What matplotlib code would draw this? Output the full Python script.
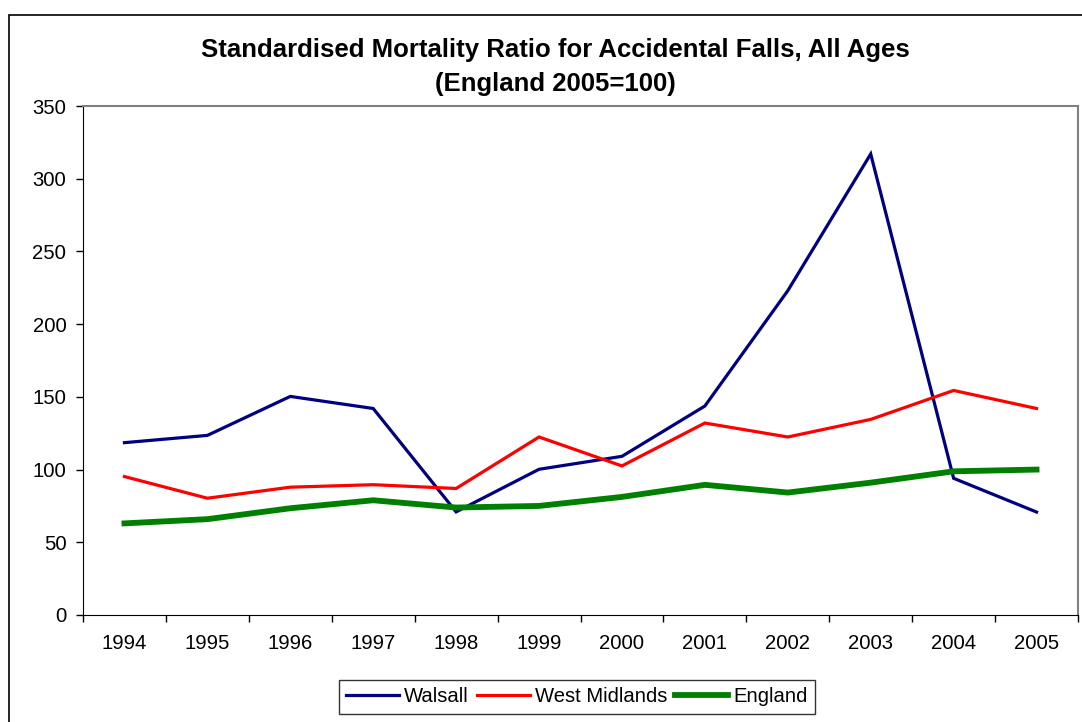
import numpy as np
import matplotlib
matplotlib.use('Agg')
import matplotlib.pyplot as plt
from matplotlib.patches import Rectangle

plt.rcParams['font.family'] = ['Liberation Sans', 'DejaVu Sans']

years = ['1994', '1995', '1996', '1997', '1998', '1999',
         '2000', '2001', '2002', '2003', '2004', '2005']
walsall = [118.5, 123.5, 150.3, 142, 70.9, 100.2, 109.1, 143.7, 223, 317, 94, 70.8]
west_midlands = [95.2, 80.3, 87.9, 89.6, 87, 122.4, 102.5, 132, 122.4, 134.5, 154.4, 142]
england = [63, 65.9, 73.4, 78.9, 73.9, 75, 81.2, 89.5, 84.2, 91, 98.8, 100]

fig = plt.figure(figsize=(10.82, 7.22), dpi=100)
ax = fig.add_axes([83 / 1082, 1 - 615 / 722, 995 / 1082, 509 / 722])

x = np.arange(len(years))
ax.plot(x, walsall, color='#000080', lw=2.3, label='Walsall', solid_joinstyle='miter')
ax.plot(x, west_midlands, color='#FF0000', lw=2.3, label='West Midlands', solid_joinstyle='miter')
ax.plot(x, england, color='#008000', lw=4.2, label='England')

ax.set_xlim(-0.5, len(years) - 0.5)
ax.set_ylim(0, 350)
ax.set_yticks(np.arange(0, 351, 50))
# tick marks between categories, labels at the centres
ax.set_xticks(np.arange(-0.5, len(years)), labels=[])
ax.set_xticks(x, labels=years, minor=True)
ax.tick_params(axis='x', which='major', length=5, width=1, direction='out')
ax.tick_params(axis='x', which='minor', length=0, pad=14, labelsize=14.6)
ax.tick_params(axis='y', length=5, width=1, direction='out', pad=7, labelsize=14.6)

for s in ['left', 'bottom']:
    ax.spines[s].set_color('black')
for s in ['top', 'right']:
    ax.spines[s].set_color('#808080')
    ax.spines[s].set_linewidth(1.5)

fig.text(555 / 1082, 1 - 50 / 722, 'Standardised Mortality Ratio for Accidental Falls, All Ages',
         ha='center', va='center', fontsize=18.5, fontweight='bold')
fig.text(555 / 1082, 1 - 84 / 722, '(England 2005=100)',
         ha='center', va='center', fontsize=18.5, fontweight='bold')

leg = fig.legend(loc='center', bbox_to_anchor=(577 / 1082, 1 - 697 / 722), ncol=3,
                 fontsize=14.6, frameon=True, fancybox=False, edgecolor='black',
                 handlelength=2.6, handletextpad=0.25, columnspacing=0.4,
                 borderpad=0.35, borderaxespad=0)
leg.get_frame().set_linewidth(1)

fig.add_artist(Rectangle((9 / 1082, -0.1), 2, (707 / 722) + 0.1, fill=False,
                         edgecolor='black', lw=1.2, transform=fig.transFigure))

fig.savefig('out.png', dpi=100)
